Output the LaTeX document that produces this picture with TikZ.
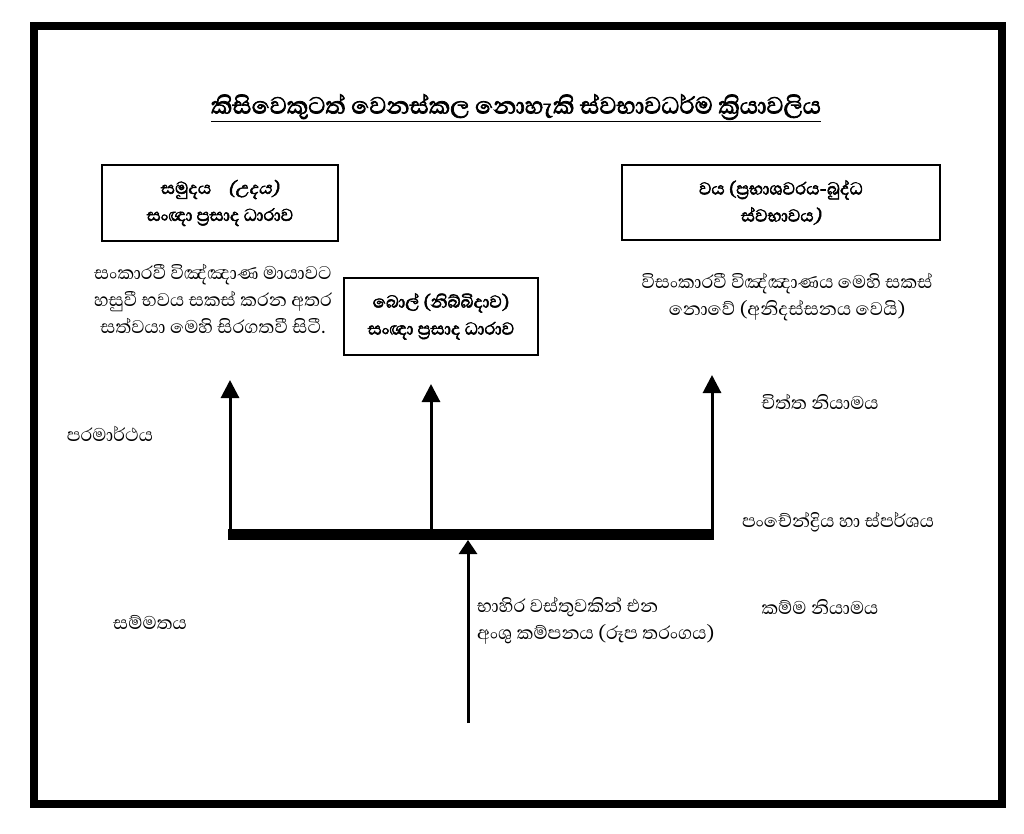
\documentclass[tikz,border=0pt]{standalone}
\usepackage{fontspec}
\newfontfamily\sinhalafont[Script=Sinhala, AutoFakeBold=2.4, AutoFakeSlant=0.2]{Abhaya Libre}
\usetikzlibrary{arrows.meta}
\begin{document}
\begin{tikzpicture}[x=1pt,y=-1pt,
  font=\sinhalafont\fontsize{23.5}{27}\selectfont,
  box/.style={draw, line width=1.6pt, align=center, inner sep=0pt, font=\sinhalafont\bfseries\fontsize{22}{27}\selectfont},
  txt/.style={align=center, inner sep=0pt},
  uparrow/.style={line width=3pt, -{Triangle[width=18pt,length=18pt]}},
  bar/.style={line width=11pt}
]
\useasboundingbox (0,0) rectangle (1024,834);
\draw[line width=8pt] (34,26.5) rectangle (1002,803.5);

\node[txt, font=\sinhalafont\bfseries\fontsize{30}{34}\selectfont] (title) at (516,108)
  {\underline{කිසිවෙකුටත් වෙනස්කල නොහැකි ස්වභාවධර්ම ක්^^^^200dරියාවලිය}};

\node[box, minimum width=236pt, minimum height=76pt] (b1) at (220,203)
  {සමුදය\ \ \ \ {\itshape (උදය)}\\සංඥා ප්^^^^200dරසාද ධාරාව};
\node[box, minimum width=194pt, minimum height=77pt] (b2) at (441,316.5)
  {බොල් (නිබ්බිදාව)\\සංඥා ප්^^^^200dරසාද ධාරාව};
\node[box, minimum width=318pt, minimum height=75pt] (b3) at (781,202.5)
  {වය (ප්^^^^200dරභාශවරය-බුද්ධ\\ස්වභාවය{\itshape )}};

\node[txt] (lp) at (213,299)
  {සංකාරවී විඤ්ඤාණ මායාවට\\හසුවී භවය සකස් කරන අතර\\සත්වයා මෙහි සිරගතවී සිටී.};
\node[txt] (rp) at (787,297.5)
  {විසංකාරවී විඤ්ඤාණය මෙහි සකස්\\නොවේ (අනිදස්සනය වෙයි)};

\node[txt] (param) at (110,434) {පරමාර්ථය};
\node[txt] (samm) at (150,622) {සම්මතය};
\node[txt] (citta) at (820,402) {චිත්ත නියාමය};
\node[txt] (panc) at (838,522) {පංචේන්ද්^^^^200dරිය හා ස්පර්ශය};
\node[txt] (kamma) at (820,607) {කම්ම නියාමය};
\node[txt, align=left, anchor=west] (bahira) at (477,621)
  {භාහිර වස්තුවකින් එන\\අංශු කම්පනය (රූප තරංගය)};

\coordinate (barL) at (228,534);
\coordinate (barR) at (714,534);
\draw[bar] (barL) -- (barR);

\coordinate (aL0) at (230,529);
\coordinate (aL1) at (230,380);
\coordinate (aM0) at (431,529);
\coordinate (aM1) at (431,384);
\coordinate (aR0) at (712,529);
\coordinate (aR1) at (712,375);
\coordinate (aB0) at (468,723);
\coordinate (aB1) at (468,540);
\draw[uparrow] (aL0) -- (aL1);
\draw[uparrow] (aM0) -- (aM1);
\draw[uparrow] (aR0) -- (aR1);
\draw[uparrow, -{Triangle[width=18pt,length=14pt]}] (aB0) -- (aB1);
\end{tikzpicture}
\end{document}
